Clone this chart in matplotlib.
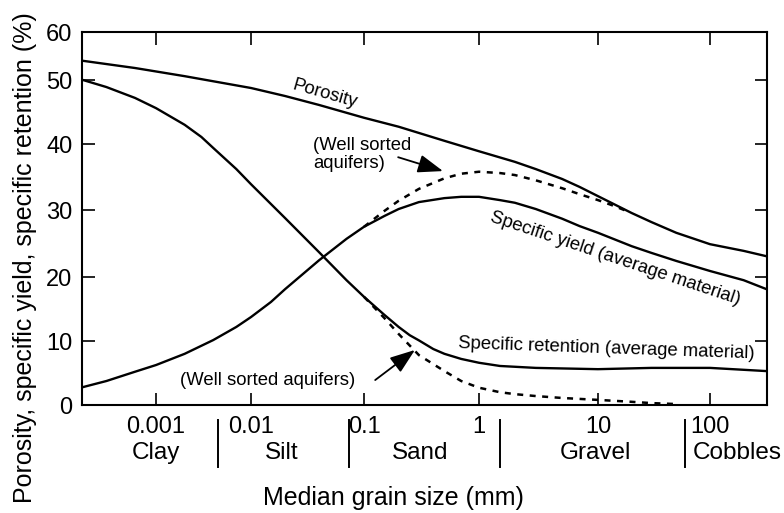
import numpy as np
import matplotlib
matplotlib.use("Agg")
import matplotlib.pyplot as plt
from matplotlib.transforms import blended_transform_factory

plt.rcParams['font.family'] = ['Liberation Sans', 'DejaVu Sans']

# ---- data: median grain size (mm) vs. percentage ----
por_size = [1.7e-4, 6e-4, 0.002, 0.01, 0.02, 0.04, 0.1, 0.2, 0.5, 1, 2, 3, 5,
            7, 10, 20, 30, 50, 100, 200, 320]
por_pct = [54.0, 52.5, 50.8, 48.75, 47.5, 46.1, 44.1, 42.7, 40.5, 38.9, 37.3,
           36.2, 34.7, 33.5, 32.1, 29.55, 28.2, 26.6, 24.9, 23.9, 23.1]

ret_size = [1.7e-4, 3e-4, 6e-4, 0.001, 0.002, 0.003, 0.004, 0.007, 0.01,
            0.02, 0.04, 0.07, 0.1, 0.15, 0.2, 0.25, 0.3, 0.4, 0.5, 0.7, 1,
            1.5, 3, 10, 30, 100, 320]
ret_pct = [50.0, 48.9, 47.2, 45.6, 43.0, 41.1, 39.4, 36.2, 33.9, 28.8, 23.7,
           19.5, 16.9, 14.1, 12.2, 10.9, 10.1, 8.75, 8.0, 7.2, 6.6, 6.1, 5.8,
           5.6, 5.8, 5.8, 5.3]

yld_size = [1.7e-4, 3e-4, 6e-4, 0.001, 0.002, 0.004, 0.007, 0.01, 0.015,
            0.02, 0.04, 0.07, 0.1, 0.15, 0.2, 0.3, 0.5, 0.7, 1, 1.5, 2, 3, 5,
            7, 10, 20, 30, 50, 100, 200, 320]
yld_pct = [2.8, 3.75, 5.2, 6.25, 8.0, 10.15, 12.2, 13.75, 16.1, 18.1, 22.5,
           25.7, 27.5, 29.1, 30.15, 31.2, 31.8, 32.0, 32.0, 31.5, 31.1, 30.15,
           28.7, 27.6, 26.6, 24.6, 23.6, 22.4, 20.9, 19.5, 18.1]

ws_yld_size = [0.1, 0.15, 0.2, 0.3, 0.5, 0.7, 1, 1.5, 2, 3, 5, 7, 10, 14, 18]
ws_yld_pct = [27.5, 29.85, 31.4, 33.2, 34.8, 35.5, 35.8, 35.6, 35.3, 34.5,
              33.3, 32.4, 31.5, 30.6, 29.85]

ws_ret_size = [0.1, 0.15, 0.2, 0.3, 0.5, 0.7, 1, 1.5, 2, 3, 5, 10, 20, 30, 50]
ws_ret_pct = [16.9, 13.6, 11.1, 7.8, 5.3, 3.75, 2.7, 2.0, 1.7, 1.4, 1.1, 0.8,
              0.5, 0.3, 0.15]

size_ticks = [0.001, 0.01, 0.1, 1, 10, 100]
size_tick_labels = ['0.001', '0.01', '0.1', '1', '10', '100']
pct_ticks = [0, 10, 20, 30, 40, 50, 60]

class_names = ['Clay', 'Silt', 'Sand', 'Gravel', 'Cobbles']
class_centers = [0.001, 0.0185, 0.31, 9.6, 175]
class_bounds = [0.0045, 0.074, 1.5, 60]

# ---- hand-drawn axes: decades and 10 % steps are not evenly spaced ----
decade_logs = [-3, -2, -1, 0, 1, 2]
decade_pos = [0, 95, 208, 323, 442, 554]
step_vals = [0, 10, 20, 30, 40, 50, 60]
step_pos = [0, 64, 128, 195, 261, 325, 373]


def piecewise(xp, fp):
    xp = np.asarray(xp, float)
    fp = np.asarray(fp, float)
    s0 = (fp[1] - fp[0]) / (xp[1] - xp[0])
    s1 = (fp[-1] - fp[-2]) / (xp[-1] - xp[-2])

    def f(v):
        v = np.asarray(v, float)
        out = np.interp(v, xp, fp)
        out = np.where(v < xp[0], fp[0] + (v - xp[0]) * s0, out)
        out = np.where(v > xp[-1], fp[-1] + (v - xp[-1]) * s1, out)
        return out
    return f


_xf = piecewise(decade_logs, decade_pos)
_xi = piecewise(decade_pos, decade_logs)
_yf = piecewise(step_vals, step_pos)
_yi = piecewise(step_pos, step_vals)


def x_fwd(x):
    return _xf(np.log10(np.clip(np.asarray(x, float), 1e-12, None)))


def x_inv(v):
    return 10.0 ** _xi(v)


fig = plt.figure(figsize=(7.84, 5.13), dpi=100)
ax = fig.add_axes([0.1046, 0.2105, 0.8737, 0.7271])
ax.set_xscale('function', functions=(x_fwd, x_inv))
ax.set_yscale('function', functions=(_yf, _yi))
ax.set_xlim(1.66e-4, 323)
ax.set_ylim(0, 60)

lw = 1.7
for sx, sy in [(por_size, por_pct), (ret_size, ret_pct), (yld_size, yld_pct)]:
    ax.plot(sx, sy, color='black', lw=lw, solid_joinstyle='round')
ax.plot(ws_yld_size, ws_yld_pct, color='black', lw=1.8, dashes=(2.4, 2.6))
ax.plot(ws_ret_size, ws_ret_pct, color='black', lw=1.8, dashes=(2.4, 2.6))

ax.set_xticks(size_ticks)
ax.set_xticklabels(size_tick_labels)
ax.set_yticks(pct_ticks)
ax.set_yticklabels([str(v) for v in pct_ticks])
ax.minorticks_off()
ax.tick_params(axis='both', direction='in', length=9, width=1.2,
               top=True, right=True, labelsize=17, color='black')
ax.tick_params(axis='x', pad=8)
ax.tick_params(axis='y', pad=7)
for sp in ax.spines.values():
    sp.set_linewidth(1.5)

ax.set_ylabel('Porosity, specific yield, specific retention (%)', fontsize=18)
ax.yaxis.set_label_coords(-0.066, 0.394)
ax.set_xlabel('Median grain size (mm)', fontsize=18)
ax.xaxis.set_label_coords(0.455, -0.217)

# grain-size classes under the axis
trans = blended_transform_factory(ax.transData, ax.transAxes)
for name, xc in zip(class_names, class_centers):
    ax.text(xc, -0.129, name, transform=trans, ha='center', va='center',
            fontsize=17.5, clip_on=False)
for xb in class_bounds:
    ax.plot([xb, xb], [-0.040, -0.166], transform=trans, color='black',
            lw=1.4, clip_on=False)

# curve labels
fs = 13.3
ax.text(0.045, 47.8, 'Porosity', fontsize=fs, rotation=-16,
        ha='center', va='center', rotation_mode='anchor')
ax.text(14.2, 22.8, 'Specific yield (average material)', fontsize=fs,
        rotation=-18.5, ha='center', va='center', rotation_mode='anchor')
ax.text(12.0, 8.75, 'Specific retention (average material)', fontsize=fs,
        rotation=-2, ha='center', va='center', rotation_mode='anchor')
ax.text(0.0354, 41.1, '(Well sorted\naquifers)', fontsize=fs, ha='left',
        va='top', linespacing=1.05)
ax.text(0.0139, 3.9, '(Well sorted aquifers)', fontsize=fs, ha='center',
        va='center')

arrow = dict(arrowstyle='-|>,head_length=1.1,head_width=0.4',
             mutation_scale=14, color='black', lw=1.3, shrinkA=0, shrinkB=0)
ax.annotate('', xy=(0.486, 35.9), xytext=(0.198, 38.0), arrowprops=arrow)
ax.annotate('', xy=(0.277, 8.6), xytext=(0.125, 3.9), arrowprops=arrow)

fig.savefig('out.png', dpi=100)
